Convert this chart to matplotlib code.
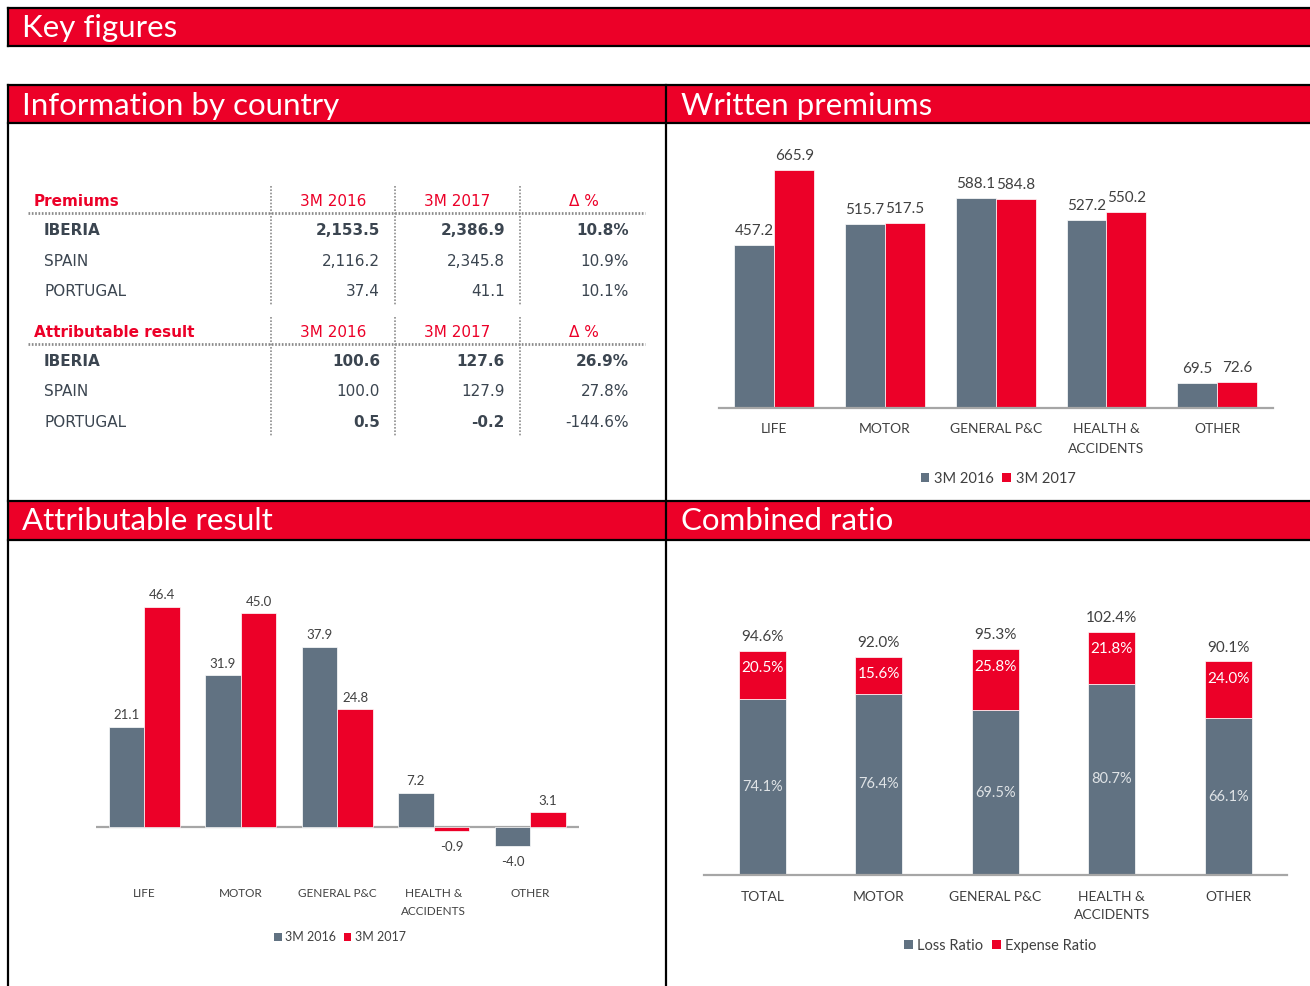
import matplotlib
matplotlib.use("Agg")
import matplotlib.pyplot as plt
from matplotlib.patches import Rectangle, Patch

W, H = 1310, 986
RED = "#ec0028"
GREY = "#617282"
TXT = "#3b4550"
LBL = "#404040"
HFONT = "Lato"
TFONT = "DejaVu Sans"

# ---- data ----
wp_categories = ["LIFE", "MOTOR", "GENERAL P&C", "HEALTH &\nACCIDENTS", "OTHER"]
wp_2016 = [457.2, 515.7, 588.1, 527.2, 69.5]
wp_2017 = [665.9, 517.5, 584.8, 550.2, 72.6]

ar_categories = ["LIFE", "MOTOR", "GENERAL P&C", "HEALTH &\nACCIDENTS", "OTHER"]
ar_2016 = [21.1, 31.9, 37.9, 7.2, -4.0]
ar_2017 = [46.4, 45.0, 24.8, -0.9, 3.1]

cr_categories = ["TOTAL", "MOTOR", "GENERAL P&C", "HEALTH &\nACCIDENTS", "OTHER"]
loss_ratio = [74.1, 76.4, 69.5, 80.7, 66.1]
expense_ratio = [20.5, 15.6, 25.8, 21.8, 24.0]
combined_ratio = [94.6, 92.0, 95.3, 102.4, 90.1]

table_cols = ["3M 2016", "3M 2017", "Δ %"]
countries = ["IBERIA", "SPAIN", "PORTUGAL"]
prem_2016 = ["2,153.5", "2,116.2", "37.4"]
prem_2017 = ["2,386.9", "2,345.8", "41.1"]
prem_delta = ["10.8%", "10.9%", "10.1%"]
res_2016 = ["100.6", "100.0", "0.5"]
res_2017 = ["127.6", "127.9", "-0.2"]
res_delta = ["26.9%", "27.8%", "-144.6%"]


def px_axes(fig, x0, y0, x1, y1):
    return fig.add_axes([x0 / W, 1 - y1 / H, (x1 - x0) / W, (y1 - y0) / H])


fig = plt.figure(figsize=(W / 100, H / 100), dpi=100)
bg = fig.add_axes([0, 0, 1, 1])
bg.set_xlim(0, W)
bg.set_ylim(H, 0)
bg.axis("off")

# header bars
for y0, y1 in [(8, 46), (85, 123), (501, 540)]:
    bg.add_patch(Rectangle((8, y0), W, y1 - y0, facecolor=RED, edgecolor="none"))
    bg.plot([8, W], [y0, y0], color="black", lw=1.6)
    bg.plot([8, W], [y1, y1], color="black", lw=1.6)
bg.plot([8, 8], [8, 46], color="black", lw=1.6)
bg.plot([8, 8], [85, H], color="black", lw=1.6)
bg.plot([666, 666], [85, H], color="black", lw=1.6)

titles = [(22, 28.5, "Key figures"), (22, 105.5, "Information by country"),
          (681, 105.5, "Written premiums"), (22, 521.5, "Attributable result"),
          (681, 521.5, "Combined ratio")]
for x, y, t in titles:
    bg.text(x, y, t, color="white", fontsize=22.5, family=HFONT, va="center", ha="left")

# ---- table ----
col_right = [380, 505, 629]
col_head = [333, 457, 584]
TFS = 11


def draw_block(top, title, vals, bold):
    bg.text(34, top + 15.5, title, color=RED, fontsize=TFS, family=TFONT,
            fontweight="bold", va="center")
    for cx, h in zip(col_head, table_cols):
        bg.text(cx, top + 15.5, h, color=RED, fontsize=TFS, family=TFONT,
                ha="center", va="center")
    bg.plot([28, 645], [top + 27, top + 27], color="#8c8c8c", lw=2, ls=(0, (0.6, 0.6)))
    for x in [271, 395, 520]:
        bg.plot([x, x], [top, top + 119], color="#8c8c8c", lw=1.2, ls=(0, (1, 1)))
    for i, name in enumerate(countries):
        y = top + 44.5 + i * 30.5
        bg.text(44, y, name, color=TXT, fontsize=TFS, family=TFONT, va="center",
                fontweight="bold" if bold[0][i] else "normal")
        for j, col in enumerate(vals):
            bg.text(col_right[j], y, col[i], color=TXT, fontsize=TFS, family=TFONT,
                    ha="right", va="center",
                    fontweight="bold" if bold[j + 1][i] else "normal")


draw_block(186, "Premiums", [prem_2016, prem_2017, prem_delta],
           [[True, False, False]] * 4)
draw_block(317, "Attributable result", [res_2016, res_2017, res_delta],
           [[True, False, False], [True, False, True], [True, False, True], [True, False, False]])


def style_axis(ax, labels, fs, pad, ls):
    for s in ["top", "left", "right"]:
        ax.spines[s].set_visible(False)
    ax.spines["bottom"].set_color("#a6a6a6")
    ax.spines["bottom"].set_linewidth(1.6)
    ax.set_yticks([])
    ax.set_xticks(range(len(labels)))
    ax.set_xticklabels(labels, fontsize=fs, family=HFONT, color=LBL, linespacing=ls)
    ax.tick_params(axis="x", length=0, pad=pad)
    ax.set_xlim(-0.5, len(labels) - 0.5)
    ax.patch.set_alpha(0)


def legend(cx, cy, labels, fs):
    handles = [Patch(facecolor=GREY), Patch(facecolor=RED)]
    fig.legend(handles, labels, loc="center", bbox_to_anchor=(cx / W, 1 - cy / H),
               ncol=2, frameon=False, handlelength=0.6, handleheight=0.6,
               handletextpad=0.3, columnspacing=0.6,
               prop={"family": HFONT, "size": fs}, labelcolor=LBL)


# ---- written premiums ----
ax = px_axes(fig, 719, 151, 1272.5, 408)
x = range(len(wp_categories))
bw = 0.36
b1 = ax.bar([i - bw / 2 for i in x], wp_2016, bw, color=GREY, edgecolor="white", lw=0.5)
b2 = ax.bar([i + bw / 2 for i in x], wp_2017, bw, color=RED, edgecolor="white", lw=0.5)
ax.set_ylim(0, 720)
style_axis(ax, wp_categories, 10, 10.5, 1.8)
for bars, vals in [(b1, wp_2016), (b2, wp_2017)]:
    for r, v in zip(bars, vals):
        ax.annotate(f"{v:.1f}", (r.get_x() + r.get_width() / 2, v), xytext=(0, 5),
                    textcoords="offset points", ha="center", va="bottom",
                    fontsize=11, family=HFONT, color=LBL)
legend(998, 479, ["3M 2016", "3M 2017"], 10.5)

# ---- attributable result ----
ax = px_axes(fig, 96, 580, 578.5, 865)
bw = 0.37
b1 = ax.bar([i - bw / 2 for i in x], ar_2016, bw, color=GREY, edgecolor="white", lw=0.5)
b2 = ax.bar([i + bw / 2 for i in x], ar_2017, bw, color=RED, edgecolor="white", lw=0.5)
ax.set_ylim(-8, 52)
style_axis(ax, ar_categories, 8.5, 16.5, 1.75)
ax.spines["bottom"].set_visible(False)
ax.axhline(0, color="#a6a6a6", lw=1.6, zorder=0)
for bars, vals in [(b1, ar_2016), (b2, ar_2017)]:
    for r, v in zip(bars, vals):
        ax.annotate(f"{v:.1f}", (r.get_x() + r.get_width() / 2, v),
                    xytext=(0, 4 if v >= 0 else -7), textcoords="offset points",
                    ha="center", va="bottom" if v >= 0 else "top",
                    fontsize=9.5, family=HFONT, color=LBL)
legend(340, 937, ["3M 2016", "3M 2017"], 9)

# ---- combined ratio ----
ax = px_axes(fig, 704, 600, 1286.5, 875)
bw = 0.40
ax.bar(x, loss_ratio, bw, color=GREY, edgecolor="white", lw=0.5)
ax.bar(x, expense_ratio, bw, bottom=loss_ratio, color=RED, edgecolor="white", lw=0.5)
ax.set_ylim(0, 275 / 2.37)
style_axis(ax, cr_categories, 10, 11.5, 1.65)
for i in x:
    ax.text(i, loss_ratio[i] / 2, f"{loss_ratio[i]:.1f}%", ha="center", va="center",
            fontsize=10.5, family=HFONT, color="#dfe3e6")
    top = loss_ratio[i] + expense_ratio[i]
    ax.annotate(f"{expense_ratio[i]:.1f}%", (i, top), xytext=(0, -12.5),
                textcoords="offset points", ha="center", va="center",
                fontsize=11, family=HFONT, color="white")
    ax.annotate(f"{combined_ratio[i]:.1f}%", (i, top), xytext=(0, 5),
                textcoords="offset points", ha="center", va="bottom",
                fontsize=11, family=HFONT, color=LBL)
legend(1000, 946, ["Loss Ratio", "Expense Ratio"], 10.5)

fig.savefig("out.png", dpi=100)
